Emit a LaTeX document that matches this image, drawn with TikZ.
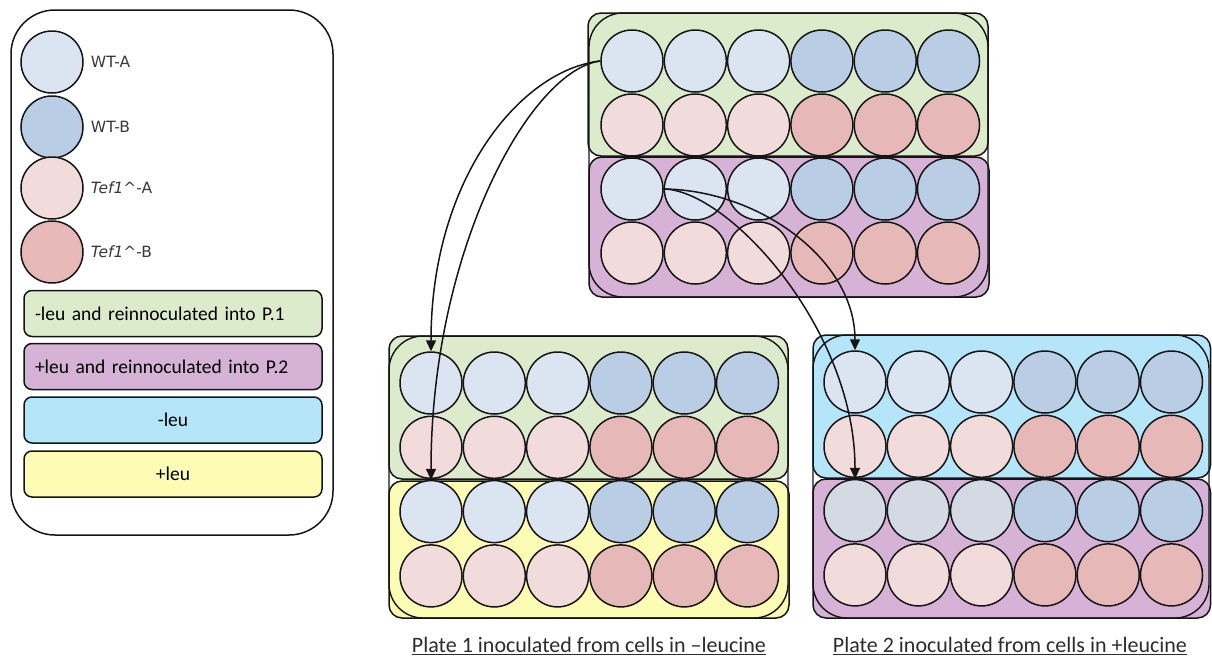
\documentclass[tikz,border=0pt]{standalone}
\usepackage{fontspec}
\setmainfont{Carlito}
\newfontfamily\lblfont{DejaVu Sans}
\usetikzlibrary{arrows.meta}
\definecolor{wtA}{HTML}{DBE5F1}
\definecolor{wtB}{HTML}{B9CDE5}
\definecolor{tfA}{HTML}{F2DCDB}
\definecolor{tfB}{HTML}{E6B9B8}
\definecolor{wtG}{HTML}{D3DAE4}
\definecolor{grn}{HTML}{DCEBCC}
\definecolor{prp}{HTML}{D7B2D7}
\definecolor{sky}{HTML}{B5E5F8}
\definecolor{ylw}{HTML}{FDFCB5}
\definecolor{ln}{HTML}{151515}
\tikzset{
  well/.style={circle, draw=ln, line width=1.5pt, minimum size=62pt, inner sep=0pt},
  half/.style={draw=ln, line width=1.5pt, rounded corners=13pt},
  platebox/.style={draw=ln, line width=1.4pt, rounded corners=34pt},
  legbox/.style={draw=ln, line width=1.5pt, rounded corners=8pt, minimum width=298pt, minimum height=46pt, font=\fontsize{19.5}{22}\selectfont},
  lbl/.style={anchor=west, inner sep=0pt, font=\lblfont\fontsize{15.5}{18}\selectfont, text=ln!85},
  arr/.style={draw=ln, line width=1.5pt, -{Triangle[length=11pt,width=10pt]}},
  captext/.style={font=\fontsize{22}{25}\selectfont, text=ln!90}
}
\newcommand\wellgrid[5]{%
  \foreach \c in {0,...,5}{%
    \ifnum\c<3 \def\colA{wtA}\def\colB{tfA}\def\colC{#5}\else\def\colA{wtB}\def\colB{tfB}\def\colC{wtB}\fi
    \node[well,fill=\colA] (#1-0-\c) at ({#2+63.3*\c},{#3}) {};
    \node[well,fill=\colB] (#1-1-\c) at ({#2+63.3*\c},{#3+#4}) {};
    \node[well,fill=\colC] (#1-2-\c) at ({#2+63.3*\c},{#3+2*#4}) {};
    \node[well,fill=\colB] (#1-3-\c) at ({#2+63.3*\c},{#3+3*#4}) {};
  }}
\begin{document}
\begin{tikzpicture}[x=1pt,y=-1pt]
\useasboundingbox (0,0) rectangle (1212,662);

% ---------- legend ----------
\draw[draw=ln, line width=1.5pt, rounded corners=44pt] (11,10) rectangle (333,535);
\node[well,fill=wtA] (lA) at (52,62) {};
\node[well,fill=wtB] (lB) at (52,127) {};
\node[well,fill=tfA] (lC) at (52,188) {};
\node[well,fill=tfB] (lD) at (52,252) {};
\node[lbl] (tA) at ([xshift=7pt]lA.east) {WT-A};
\node[lbl] (tB) at ([xshift=7pt]lB.east) {WT-B};
\node[lbl] (tC) at ([xshift=7pt]lC.east) {\itshape Tef1\upshape\textasciicircum-A};
\node[lbl] (tD) at ([xshift=7pt]lD.east) {\itshape Tef1\upshape\textasciicircum-B};
\node[legbox, fill=grn, text width=276pt, inner xsep=11pt, align=left] (g1) at (173,313.5) {-leu and reinnoculated into P.1};
\node[legbox, fill=prp, text width=276pt, inner xsep=11pt, align=left] (g2) at (173,366.5) {+leu and reinnoculated into P.2};
\node[legbox, fill=sky, text width=276pt, inner xsep=11pt, align=center] (g3) at (173,420) {-leu};
\node[legbox, fill=ylw, text width=276pt, inner xsep=11pt, align=center] (g4) at (173,474) {+leu};

% ---------- top plate ----------
\draw[half, fill=grn] (588,13) rectangle (988,156);
\draw[half, fill=prp] (589,157) rectangle (989,297);
\draw[platebox] (589,13) rectangle (988,297);
\wellgrid{t}{632}{61}{64}{wtA}

% ---------- plate 1 ----------
\draw[half, fill=grn] (389,336) rectangle (788,479);
\draw[half, fill=ylw] (389,481) rectangle (789,618);
\draw[platebox] (389,336) rectangle (788,618);
\wellgrid{p}{431}{383}{64.3}{wtA}

% ---------- plate 2 ----------
\draw[half, fill=sky] (813,335) rectangle (1210.5,478);
\draw[half, fill=prp] (813,479) rectangle (1210.5,618);
\draw[platebox] (813,335) rectangle (1209,618);
\wellgrid{q}{855}{382}{64.3}{wtG}

% ---------- arrows ----------
\draw[arr] (t-0-0.west) .. controls +(-80,9) and +(0,-172) .. (p-0-0.north);
\draw[arr] (t-0-0.west) .. controls +(-70,9) and +(0,-230) .. (p-2-0.north);
\draw[arr] (t-2-1.west) .. controls +(95,1) and +(0,-91) .. (q-0-0.north);
\draw[arr] (t-2-1.west) .. controls +(65,1) and +(0,-150) .. (q-2-0.north);

% ---------- captions ----------
\node[captext] (c1) at (589,646) {\underline{Plate 1 inoculated from cells in --leucine}};
\node[captext] (c2) at (1010,646) {\underline{Plate 2 inoculated from cells in +leucine}};
\end{tikzpicture}
\end{document}
